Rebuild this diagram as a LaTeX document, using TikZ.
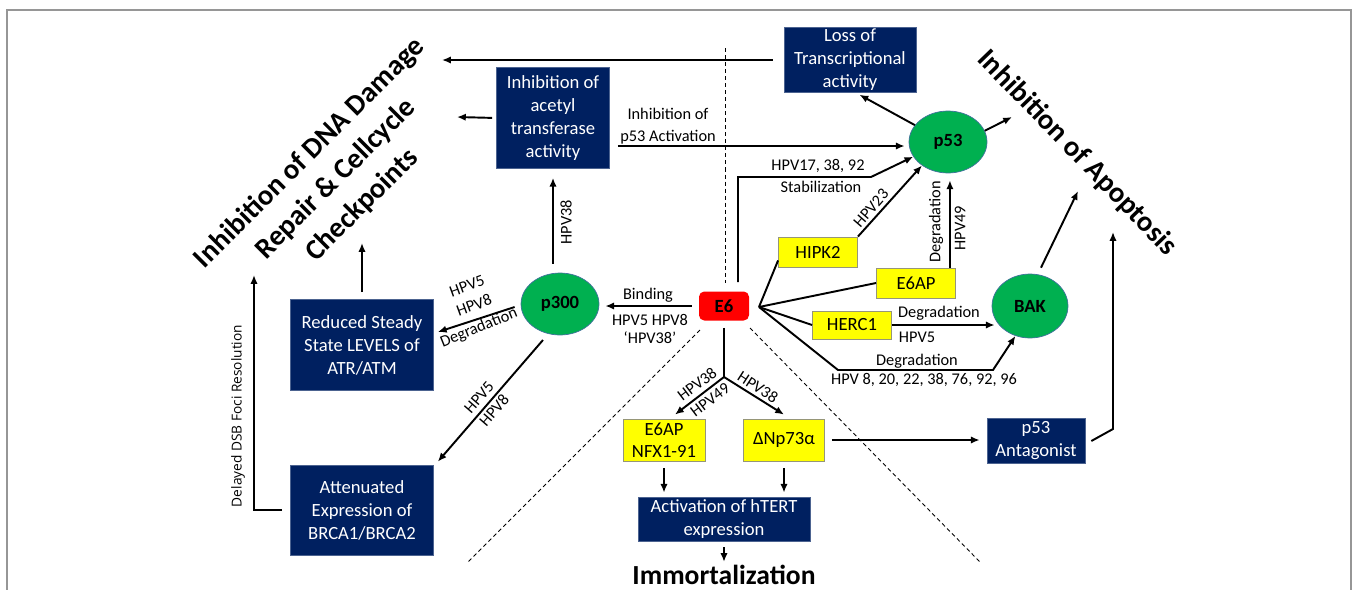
\documentclass[tikz,border=0pt]{standalone}
\usepackage{fontspec}
\setmainfont{Carlito}
\newfontfamily\osans{Open Sans}
\usetikzlibrary{shapes.geometric,arrows.meta,calc}
\definecolor{navy}{RGB}{0,32,96}
\definecolor{grn}{RGB}{0,176,80}
\definecolor{yel}{RGB}{255,255,0}
\definecolor{yelb}{RGB}{150,150,120}
\definecolor{circb}{RGB}{65,113,156}
\definecolor{framec}{RGB}{150,150,150}
\begin{document}
\begin{tikzpicture}[x=0.02cm,y=-0.02cm,
 arr/.style={-{Latex[length=5pt,width=4.2pt]}, line width=1.1pt},
 conn/.style={line width=1.1pt},
 navybox/.style={rectangle, fill=navy, draw=navy!70!white, line width=0.4pt, text=white, align=center, inner sep=0pt, font=\fontsize{10.6}{13.1}\selectfont},
 yelbox/.style={rectangle, fill=yel, draw=yelb, line width=0.5pt, align=center, inner sep=0pt, font=\fontsize{10.6}{12.5}\selectfont},
 circ/.style={ellipse, fill=grn, draw=circb, line width=0.4pt, inner sep=0pt, font=\bfseries\fontsize{10.6}{13}\selectfont},
 lab/.style={font=\fontsize{9.3}{12.5}\selectfont, inner sep=0pt, align=center},
 bigtitle/.style={font=\bfseries\fontsize{16.4}{21}\selectfont, align=center, inner sep=0pt},
 sepline/.style={dash pattern=on 2.3pt off 1.7pt, line width=0.5pt}]
\useasboundingbox (0,0) rectangle (1357,589);
\begin{scope}
\clip (0,0) rectangle (1357,589);
\draw[framec, line width=1.2pt] (7,10) rectangle (1351,640);
\end{scope}

% separators
\draw[sepline] (725,48) -- (725,283);
\draw[sepline] (700,330) -- (468,562);
\draw[sepline] (750,328) -- (980,562);

% navy boxes
\node[navybox, minimum width=2.64cm, minimum height=1.3cm] (loss) at (850,60) {Loss of\\Transcriptional\\activity};
\node[navybox, minimum width=2.26cm, minimum height=2.02cm] (acetyl) at (553,118) {Inhibition of\\acetyl\\transferase\\activity};
\node[navybox, minimum width=2.86cm, minimum height=1.82cm] (atr) at (362,345) {Reduced Steady\\State LEVELS of\\ATR/ATM};
\node[navybox, minimum width=2.86cm, minimum height=1.8cm] (brca) at (362,510) {Attenuated\\Expression of\\BRCA1/BRCA2};
\node[navybox, minimum width=3.44cm, minimum height=0.88cm] (htert) at (724,519) {Activation of hTERT\\expression};
\node[navybox, minimum width=1.96cm, minimum height=0.9cm] (antag) at (1036,441) {p53\\Antagonist};

% yellow boxes
\node[yelbox, minimum width=1.58cm, minimum height=0.6cm] (hipk2) at (818,252) {HIPK2};
\node[yelbox, minimum width=1.58cm, minimum height=0.6cm] (e6apr) at (916,283) {E6AP};
\node[yelbox, minimum width=1.58cm, minimum height=0.56cm] (herc1) at (852,325) {HERC1};
\node[yelbox, minimum width=1.64cm, minimum height=0.84cm] (nfx) at (664,440) {E6AP\\NFX1-91};
\node[yelbox, minimum width=1.62cm, minimum height=0.84cm] (dnp) at (784,440) {ΔNp73α};

% circles
\node[circ, minimum width=1.56cm, minimum height=1.24cm] (p53) at (948,142) {p53};
\node[circ, minimum width=1.56cm, minimum height=1.24cm] (p300) at (560,304) {p300};
\node[circ, minimum width=1.52cm, minimum height=1.28cm] (bak) at (1030,306) {BAK};

% E6
\node[rectangle, rounded corners=3pt, fill=red, minimum width=1.0cm, minimum height=0.58cm, inner sep=0pt, font=\bfseries\fontsize{10.6}{13}\selectfont] (e6) at (724,306) {E6};

% titles
\node[bigtitle, rotate=45] (t1) at (336,179) {Inhibition of DNA Damage\\Repair \& Cellcycle\\Checkpoints};
\node[bigtitle, rotate=-46] (t2) at (1077,153) {Inhibition of Apoptosis};
\node[font=\bfseries\fontsize{15.7}{18}\selectfont, inner sep=0pt] (immo) at (724,575) {Immortalization};

% coordinates
\coordinate (dnaA) at (442,60);
\coordinate (dnaB) at (457,117);
\coordinate (dnaC) at (362,243);
\coordinate (dnaD) at (254,275);
\coordinate (apoA) at (1012,117);
\coordinate (apoB) at (1078,191);
\coordinate (apoC) at (1113,232);
\coordinate (stabA) at (738,177);
\coordinate (stabB) at (871,177);
\coordinate (hub) at (759,307);
\coordinate (degA) at (838,370);
\coordinate (degB) at (993,370);
\coordinate (branch) at (724,377);
\coordinate (antB) at (1113,429);
\coordinate (e6top) at ($(e6apr.north east)+(-6,0)$);
\path (herc1.east -| bak.west) coordinate (hb);

% connectors
\draw[arr, shorten <=0.22cm] (loss.west) -- (dnaA);
\draw[arr, shorten <=0.08cm] (acetyl.west) -- (dnaB);
\draw[arr, shorten <=0.16cm, shorten >=0.08cm] ($(acetyl.east |- p53)+(0,4)$) -- ($(p53.west)+(0,4)$);
\node[lab] (l1) at (668,126) {Inhibition of\\p53 Activation};
\draw[arr, shorten >=0.08cm] (p53.153) -- ($(loss.south)+(6,0)$);
\draw[arr] (p53.17) -- (apoA);

\draw[arr, shorten <=0.14cm, shorten >=0.12cm] (e6.west) -- (e6.west -| p300.east);
\node[lab] at (648,295) {Binding};
\node[lab] at (650,320) {HPV5 HPV8};
\node[lab] at (650,338) {‘HPV38’};

\draw[arr] ($(p300.west)+(-6,3)$) -- ($(atr.east)+(4,-13)$);
\node[lab, rotate=20] at (467,286) {HPV5};
\node[lab, rotate=20] at (474,305) {HPV8};
\node[lab, rotate=22] at (479,328) {Degradation};

\draw[arr] ($(p300.center)+(-17,36)$) -- ($(brca.north east)+(4,-3)$);
\node[lab, rotate=49] at (479,397) {HPV5};
\node[lab, rotate=49] at (494,410) {HPV8};

\draw[arr, shorten <=0.14cm] (atr.north) -- (dnaC);
\draw[arr, shorten <=0.16cm] (brca.west) -| (dnaD);
\node[font=\osans\fontsize{7.8}{9}\selectfont, rotate=90, inner sep=0pt] at (238,416) {Delayed DSB Foci Resolution};

\draw[arr, shorten <=0.18cm, shorten >=0.18cm] (acetyl.south |- p300.north) -- (acetyl.south);
\node[lab, rotate=90] at (566,222) {HPV38};

\draw[arr] ($(e6.north)+(14,-9)$) -- (stabA) -- (stabB) -- (p53.203);
\node[lab] at (818,166) {HPV17, 38, 92};
\node[lab] at (821,187) {Stabilization};

\draw[conn] (hub) -- ($(hipk2.south west)+(0,-7)$);
\draw[conn] (hub) -- (e6apr.west);
\draw[conn] (hub) -- (herc1.west);
\draw[arr] (hub) -- (degA) -- (degB) -- (bak.244);
\node[lab] at (917,361) {Degradation};
\node[lab] at (924,380) {HPV 8, 20, 22, 38, 76, 92, 96};

\draw[arr] (hipk2.north east) -- (p53.222);
\node[lab, rotate=49] at (871,208) {HPV23};

\draw[arr, shorten >=0.14cm] (e6top) -- (e6top |- p53.south);
\node[lab, rotate=90] at (936,222) {Degradation};
\node[lab, rotate=90] at (960,228) {HPV49};

\draw[arr] (herc1.east) -- ($(hb)+(3,0)$);
\node[lab] at (939,313) {Degradation};
\node[lab] at (917,337) {HPV5};

\draw[arr] ($(bak.north)+(11,-6)$) -- (apoB);

\draw[conn, shorten <=0.14cm] (e6.south) -- (branch);
\draw[arr] (branch) -- ($(nfx.north)+(11,-4)$);
\draw[arr] (branch) -- ($(dnp.north)+(0,-4)$);
\node[lab, rotate=37] at (697,384) {HPV38};
\node[lab, rotate=37] at (710,400) {HPV49};
\node[lab, rotate=-33] at (758,387) {HPV38};

\draw[arr, shorten <=0.14cm, shorten >=0.08cm] (nfx.south) -- (nfx.south |- htert.north);
\draw[arr, shorten <=0.14cm, shorten >=0.08cm] (dnp.south) -- (dnp.south |- htert.north);
\draw[arr, shorten <=0.12cm, shorten >=0.06cm] (htert.south) -- (immo.north);

\draw[arr, shorten <=0.14cm, shorten >=0.14cm] (dnp.east) -- (dnp.east -| antag.west);
\draw[arr] ($(antag.east)+(6,0)$) -- (antB) -- (apoC);
\end{tikzpicture}
\end{document}
